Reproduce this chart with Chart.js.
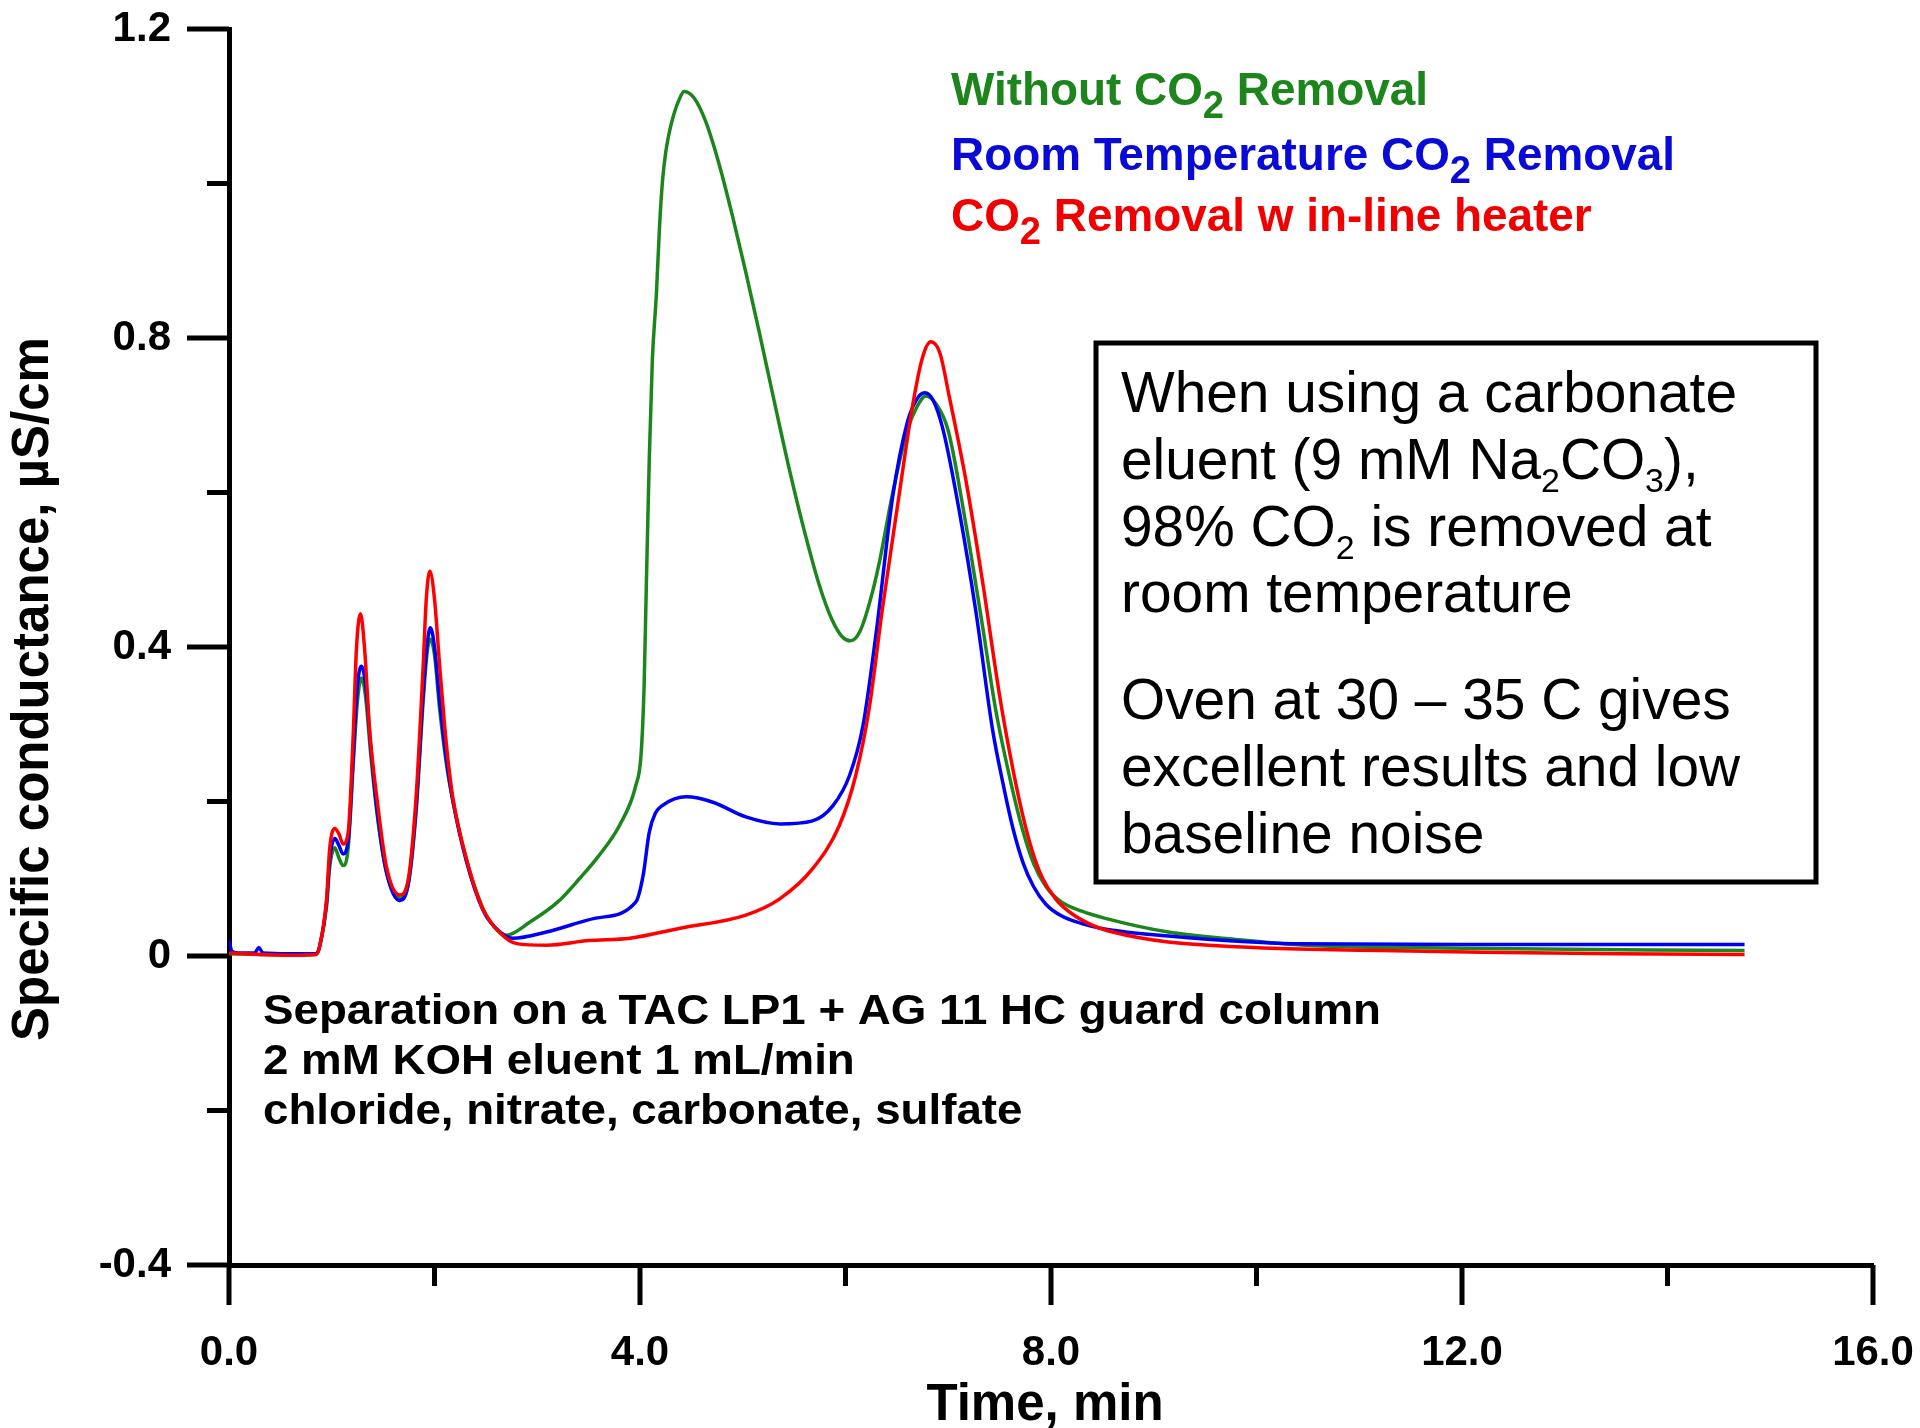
<!DOCTYPE html>
<html>
<head>
<meta charset="utf-8">
<script src="https://cdn.jsdelivr.net/npm/chart.js@4.4.1/dist/chart.umd.min.js"></script>
<style>
html,body{margin:0;padding:0;background:#fff;}
canvas{display:block;}
</style>
</head>
<body>
<canvas id="c" width="1920" height="1428"></canvas>
<script>
// ---------------- DATA ----------------
const seriesNames = ['Without CO2 Removal', 'Room Temperature CO2 Removal', 'CO2 Removal w in-line heater'];

// CO2 removal with in-line heater (red)
const redTime = [0, 0.3, 0.6, 0.85, 0.885, 0.95, 0.98, 1.03, 1.07, 1.11, 1.16, 1.21, 1.24, 1.28, 1.32, 1.37,
  1.44, 1.53, 1.66, 1.74, 1.82, 1.89, 1.92, 1.955, 2.0, 2.05, 2.12, 2.18, 2.31, 2.47, 2.63, 2.8, 3.09, 3.5,
  3.9, 4.39, 5.03, 5.36, 5.68, 5.94, 6.10, 6.23, 6.36, 6.52, 6.65, 6.75, 6.83, 6.92, 7.01, 7.17, 7.33, 7.5,
  7.62, 7.72, 7.82, 7.92, 8.05, 8.2, 8.4, 8.6, 9.14, 9.8, 10.4, 11.2, 12.2, 13.5, 14.75];
const redValue = [0.004, 0.002, 0.001, 0.002, 0.014, 0.074, 0.139, 0.165, 0.158, 0.145, 0.16, 0.29, 0.397, 0.443, 0.397, 0.29,
  0.204, 0.117, 0.079, 0.096, 0.204, 0.376, 0.462, 0.498, 0.462, 0.376, 0.268, 0.204, 0.126, 0.061, 0.031, 0.016, 0.014, 0.02,
  0.023, 0.036, 0.053, 0.074, 0.113, 0.169, 0.234, 0.32, 0.45, 0.595, 0.71, 0.775, 0.795, 0.78, 0.724, 0.617, 0.488, 0.337,
  0.248, 0.185, 0.135, 0.1, 0.073, 0.055, 0.04, 0.031, 0.018, 0.012, 0.009, 0.007, 0.005, 0.003, 0.002];

// Room temperature CO2 removal (blue)
const blueTime = [0, 0.03, 0.1, 0.25, 0.29, 0.33, 0.6, 0.85, 0.885, 0.95, 0.98, 1.03, 1.07, 1.11, 1.16, 1.21, 1.25, 1.29,
  1.33, 1.38, 1.44, 1.53, 1.66, 1.74, 1.82, 1.89, 1.93, 1.96, 2.0, 2.05, 2.12, 2.18, 2.31, 2.47, 2.63, 2.76,
  3.09, 3.57, 3.96, 4.03, 4.09, 4.15, 4.22, 4.45, 4.71, 5.03, 5.36, 5.68, 5.88, 6.04, 6.17, 6.30, 6.46, 6.6,
  6.69, 6.77, 6.85, 6.95, 7.11, 7.27, 7.43, 7.53, 7.63, 7.73, 7.83, 7.95, 8.1, 8.3, 8.52, 9.14, 10.37, 12, 14.75];
const blueValue = [0.02, 0.006, 0.004, 0.004, 0.011, 0.004, 0.003, 0.003, 0.014, 0.07, 0.125, 0.152, 0.143, 0.132, 0.15, 0.26, 0.35, 0.375,
  0.35, 0.27, 0.19, 0.11, 0.072, 0.09, 0.19, 0.34, 0.405, 0.425, 0.40, 0.33, 0.25, 0.2, 0.123, 0.06, 0.032, 0.023,
  0.031, 0.049, 0.07, 0.104, 0.16, 0.185, 0.195, 0.206, 0.199, 0.18, 0.171, 0.175, 0.195, 0.234, 0.298, 0.42, 0.595, 0.69,
  0.72, 0.729, 0.72, 0.681, 0.574, 0.445, 0.294, 0.225, 0.165, 0.12, 0.09, 0.067, 0.052, 0.042, 0.035, 0.026, 0.016, 0.015, 0.015];

// Without CO2 removal (green)
const greenTime = [0, 0.3, 0.6, 0.85, 0.885, 0.95, 0.98, 1.03, 1.07, 1.11, 1.16, 1.21, 1.25, 1.29, 1.33, 1.38, 1.44, 1.53,
  1.66, 1.74, 1.82, 1.89, 1.93, 1.96, 2.0, 2.05, 2.12, 2.18, 2.31, 2.47, 2.6, 2.7, 2.93, 3.2, 3.41, 3.6,
  3.8, 3.96, 4.01, 4.04, 4.06, 4.09, 4.12, 4.16, 4.19, 4.22, 4.25, 4.28, 4.32, 4.37, 4.43, 4.53, 4.64, 4.77, 4.90,
  5.03, 5.16, 5.30, 5.45, 5.6, 5.75, 5.87, 5.97, 6.05, 6.14, 6.24, 6.33, 6.46, 6.6, 6.7, 6.78, 6.88, 7.0, 7.17, 7.33, 7.46,
  7.6, 7.72, 7.83, 7.95, 8.1, 8.3, 8.52, 9.14, 9.76, 10.5, 12, 14.75];
const greenValue = [0.003, 0.002, 0.001, 0.002, 0.014, 0.065, 0.115, 0.14, 0.127, 0.117, 0.14, 0.25, 0.33, 0.36, 0.335, 0.26, 0.185, 0.11,
  0.075, 0.09, 0.185, 0.33, 0.395, 0.41, 0.39, 0.32, 0.245, 0.2, 0.125, 0.062, 0.035, 0.027, 0.044, 0.07, 0.10, 0.13,
  0.169, 0.221, 0.26, 0.35, 0.47, 0.642, 0.771, 0.858, 0.944, 1.005, 1.04, 1.063, 1.085, 1.105, 1.119, 1.11, 1.08, 1.025, 0.958,
  0.885, 0.808, 0.722, 0.632, 0.55, 0.478, 0.435, 0.413, 0.408, 0.42, 0.46, 0.51, 0.6, 0.68, 0.712, 0.725, 0.715, 0.68, 0.56, 0.43, 0.32,
  0.23, 0.165, 0.12, 0.09, 0.07, 0.058, 0.049, 0.031, 0.022, 0.014, 0.01, 0.007];

// Axes
const yMajorTicks = [-0.4, 0, 0.4, 0.8, 1.2];
const yMinorTicks = [-0.2, 0.2, 0.6, 1.0];
const xMajorTicks = [0, 4, 8, 12, 16];
const xMinorTicks = [2, 6, 10, 14];
const xTitle = 'Time, min';
const yTitle = 'Specific conductance, µS/cm';

// Texts ({} = subscript)
const legendLines = ['Without CO{2} Removal', 'Room Temperature CO{2} Removal', 'CO{2} Removal w in-line heater'];
const boxLines = ['When using a carbonate', 'eluent (9 mM Na{2}CO{3}),', '98% CO{2} is removed at', 'room temperature',
  'Oven at 30 \u2013 35 C gives', 'excellent results and low', 'baseline noise'];
const noteLines = ['Separation on a TAC LP1 + AG 11 HC guard column', '2 mM KOH eluent 1 mL/min', 'chloride, nitrate, carbonate, sulfate'];

// ---------------- STYLE ----------------
const GREEN = 'rgb(28,134,28)';
const BLUE = 'rgb(0,0,245)';
const RED = 'rgb(255,0,0)';
const FAMILY = '"Liberation Sans", Arial, Helvetica, sans-serif';

function pts(xs, ys) { return xs.map((x, i) => ({ x: x, y: ys[i] })); }

function parseRich(s) {
  const out = []; const re = /\{([^}]*)\}/g; let last = 0, m;
  while ((m = re.exec(s))) {
    if (m.index > last) out.push({ t: s.slice(last, m.index), sub: false });
    out.push({ t: m[1], sub: true });
    last = re.lastIndex;
  }
  if (last < s.length) out.push({ t: s.slice(last), sub: false });
  return out;
}
function fontFor(st, sub) {
  return st.weight + ' ' + (sub ? Math.round(st.size * st.subScale) : st.size) + 'px ' + FAMILY;
}
function richWidth(ctx, s, st) {
  let w = 0;
  for (const sg of parseRich(s)) { ctx.font = fontFor(st, sg.sub); w += ctx.measureText(sg.t).width; }
  return w;
}
function drawRich(ctx, s, x, y, st, sx) {
  ctx.save();
  ctx.translate(x, y);
  ctx.scale(sx, 1);
  ctx.textAlign = 'left';
  ctx.textBaseline = 'alphabetic';
  let cx = 0;
  for (const sg of parseRich(s)) {
    ctx.font = fontFor(st, sg.sub);
    ctx.fillText(sg.t, cx, sg.sub ? st.subDy : 0);
    cx += ctx.measureText(sg.t).width;
  }
  ctx.restore();
}

const decorPlugin = {
  id: 'decor',
  afterDraw(chart) {
    const ctx = chart.ctx;
    const ca = chart.chartArea;
    const xs = chart.scales.x, ys = chart.scales.y;

    // tick marks
    ctx.save();
    ctx.strokeStyle = '#000';
    ctx.lineWidth = 5;
    ctx.lineCap = 'butt';
    ctx.beginPath();
    yMajorTicks.forEach(v => { const p = ys.getPixelForValue(v); ctx.moveTo(ca.left - 42, p); ctx.lineTo(ca.left, p); });
    yMinorTicks.forEach(v => { const p = ys.getPixelForValue(v); ctx.moveTo(ca.left - 22, p); ctx.lineTo(ca.left, p); });
    xMajorTicks.forEach(v => { const p = xs.getPixelForValue(v); ctx.moveTo(p, ca.bottom); ctx.lineTo(p, ca.bottom + 40); });
    xMinorTicks.forEach(v => { const p = xs.getPixelForValue(v); ctx.moveTo(p, ca.bottom); ctx.lineTo(p, ca.bottom + 21); });
    ctx.stroke();
    ctx.restore();

    // axis titles
    ctx.save();
    ctx.fillStyle = '#000';
    ctx.font = 'bold 51px ' + FAMILY;
    ctx.textAlign = 'center';
    ctx.textBaseline = 'alphabetic';
    ctx.fillText(xTitle, (ca.left + ca.right) / 2 - 6, 1420);
    ctx.translate(48, 689);
    ctx.rotate(-Math.PI / 2);
    ctx.fillText(yTitle, 0, 0);
    ctx.restore();

    // legend (coloured text)
    const legColors = [GREEN, 'rgb(10,10,215)', 'rgb(240,0,0)'];
    const legStyle = { size: 47, weight: 'bold', subScale: 0.82, subDy: 13 };
    const legSx = 724 / richWidth(ctx, legendLines[1], legStyle);
    const legBase = [105, 170, 231];
    legendLines.forEach((l, i) => {
      ctx.fillStyle = legColors[i];
      drawRich(ctx, l, 951, legBase[i], legStyle, legSx);
    });

    // text box
    ctx.save();
    ctx.strokeStyle = '#000';
    ctx.lineWidth = 5;
    ctx.strokeRect(1096, 343, 720, 539);
    ctx.restore();
    const boxStyle = { size: 57, weight: 'normal', subScale: 0.6, subDy: 13 };
    const boxSx = 616 / richWidth(ctx, boxLines[0], boxStyle);
    const boxBase = [412, 479, 546, 612, 719, 786, 853];
    ctx.fillStyle = '#000';
    boxLines.forEach((l, i) => drawRich(ctx, l, 1121, boxBase[i], boxStyle, boxSx));

    // note text
    const noteStyle = { size: 43, weight: 'bold', subScale: 0.6, subDy: 10 };
    const noteSx = 1118 / richWidth(ctx, noteLines[0], noteStyle);
    const noteBase = [1024, 1074, 1124];
    noteLines.forEach((l, i) => drawRich(ctx, l, 263, noteBase[i], noteStyle, noteSx));
  }
};

Chart.defaults.font.family = FAMILY;
Chart.defaults.color = '#000';

const dsCommon = { pointRadius: 0, borderWidth: 3.5, fill: false, cubicInterpolationMode: 'monotone' };

new Chart(document.getElementById('c'), {
  type: 'line',
  data: {
    datasets: [
      Object.assign({ label: seriesNames[2], data: pts(redTime, redValue), borderColor: RED, order: 0 }, dsCommon),
      Object.assign({ label: seriesNames[1], data: pts(blueTime, blueValue), borderColor: BLUE, order: 1 }, dsCommon),
      Object.assign({ label: seriesNames[0], data: pts(greenTime, greenValue), borderColor: GREEN, order: 2 }, dsCommon)
    ]
  },
  options: {
    responsive: false,
    devicePixelRatio: 1,
    animation: false,
    events: [],
    layout: { padding: { left: 0, right: 47, top: 29, bottom: 0 } },
    plugins: { legend: { display: false }, tooltip: { enabled: false }, title: { display: false } },
    scales: {
      x: {
        type: 'linear',
        min: 0, max: 16,
        afterBuildTicks: s => { s.ticks = xMajorTicks.map(v => ({ value: v })); },
        afterFit: s => { s.height = 163; s.paddingLeft = 0; s.paddingRight = 0; },
        grid: { display: false, drawTicks: false },
        border: { display: true, color: '#000', width: 5 },
        ticks: {
          padding: 63,
          maxRotation: 0,
          autoSkip: false,
          font: { size: 42, weight: 'bold' },
          color: '#000',
          callback: v => Number(v).toFixed(1)
        },
        title: { display: false }
      },
      y: {
        type: 'linear',
        min: -0.4, max: 1.2,
        afterBuildTicks: s => { s.ticks = yMajorTicks.map(v => ({ value: v })); },
        afterFit: s => { s.width = 229; s.paddingTop = 0; s.paddingBottom = 0; },
        grid: { display: false, drawTicks: false },
        border: { display: true, color: '#000', width: 5 },
        ticks: {
          padding: 58,
          autoSkip: false,
          font: { size: 42, weight: 'bold' },
          color: '#000',
          callback: v => (Math.abs(v) < 1e-9 ? '0' : Number(v).toFixed(1))
        },
        title: { display: false }
      }
    }
  },
  plugins: [decorPlugin]
});
</script>
</body>
</html>
